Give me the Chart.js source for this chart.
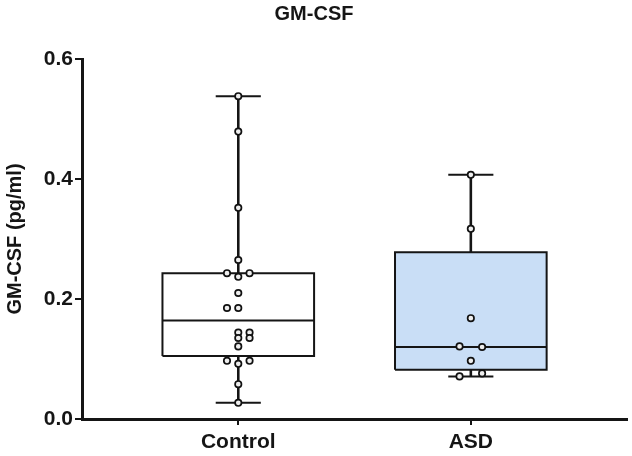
<!DOCTYPE html>
<html>
<head>
<meta charset="utf-8">
<script src="https://cdn.jsdelivr.net/npm/chart.js@4.4.1/dist/chart.umd.min.js"></script>
<style>
  html, body { margin: 0; padding: 0; background: #ffffff; }
  #wrap { width: 632px; height: 456px; position: relative; }
</style>
</head>
<body>
<div id="wrap"><canvas id="c"></canvas></div>
<script>
// ---- data ----
const categories = ['Control', 'ASD'];
const yTicks = [0.0, 0.2, 0.4, 0.6];

// individual observations
const controlValues = [0.538, 0.479, 0.352, 0.265, 0.243, 0.243, 0.237, 0.210, 0.185, 0.185,
                       0.144, 0.144, 0.135, 0.135, 0.121, 0.097, 0.097, 0.092, 0.058, 0.027];
const controlJitter = [0, 0, 0, 0, -1, 1, 0, 0, -1, 0, 0, 1, 0, 1, 0, -1, 1, 0, 0, 0];
const asdValues = [0.407, 0.317, 0.168, 0.121, 0.120, 0.097, 0.076, 0.071];
const asdJitter = [0, 0, 0, -1, 1, 0, 1, -1];

// box summaries: [whiskerLow, q1, median, q3, whiskerHigh]
const controlBox = [0.027, 0.105, 0.164, 0.243, 0.538];
const asdBox = [0.071, 0.082, 0.120, 0.278, 0.407];

// ---- styling ----
const INK = '#151515';
const FONT = '"Liberation Sans", Arial, Helvetica, sans-serif';
const BOX_HALF = 0.326;
const CAP_HALF = 0.097;
const JIT = 0.0485;
const groups = [
  { values: controlValues, jitter: controlJitter, box: controlBox, fill: '#ffffff' },
  { values: asdValues, jitter: asdJitter, box: asdBox, fill: '#c9def6' }
];

const datasets = [];
const lineBase = (data, width, order) => ({
  type: 'line', data, borderColor: INK, borderWidth: width, pointRadius: 0,
  pointHoverRadius: 0, fill: false, tension: 0, order, clip: false
});

groups.forEach((g, i) => {
  const [lo, q1, med, q3, hi] = g.box;
  // points (on top)
  datasets.push({
    type: 'scatter',
    data: g.values.map((v, k) => ({ x: i + g.jitter[k] * JIT, y: v })),
    pointRadius: 3.2, pointBorderWidth: 1.7, borderColor: '#111111', backgroundColor: '#eeeeee',
    pointHoverRadius: 3.2, order: 0
  });
  // box fill
  datasets.push(Object.assign(lineBase([{ x: i - BOX_HALF, y: q3 }, { x: i + BOX_HALF, y: q3 }], 0, 9), {
    fill: { value: q1 }, backgroundColor: g.fill
  }));
  // box outline
  datasets.push(lineBase([
    { x: i - BOX_HALF, y: q1 }, { x: i + BOX_HALF, y: q1 }, { x: i + BOX_HALF, y: q3 },
    { x: i - BOX_HALF, y: q3 }, { x: i - BOX_HALF, y: q1 }
  ], 2, 5));
  // median
  datasets.push(lineBase([{ x: i - BOX_HALF, y: med }, { x: i + BOX_HALF, y: med }], 2, 5));
  // whiskers
  datasets.push(lineBase([{ x: i, y: lo }, { x: i, y: q1 }], 2.6, 6));
  datasets.push(lineBase([{ x: i, y: q3 }, { x: i, y: hi }], 2.6, 6));
  // caps
  datasets.push(lineBase([{ x: i - CAP_HALF, y: lo }, { x: i + CAP_HALF, y: lo }], 2, 6));
  datasets.push(lineBase([{ x: i - CAP_HALF, y: hi }, { x: i + CAP_HALF, y: hi }], 2, 6));
});

new Chart(document.getElementById('c'), {
  type: 'scatter',
  data: { datasets },
  options: {
    responsive: true,
    maintainAspectRatio: false,
    animation: false,
    events: [],
    layout: { padding: { left: 0, right: 4, top: 0, bottom: 0 } },
    plugins: {
      legend: { display: false },
      tooltip: { enabled: false },
      title: {
        display: true, text: 'GM-CSF', color: INK,
        font: { family: FONT, size: 20, weight: 'bold' },
        padding: { top: 2, bottom: 33 }
      }
    },
    scales: {
      x: {
        type: 'linear', min: -0.672, max: 1.672,
        afterBuildTicks: (s) => { s.ticks = categories.map((_, i) => ({ value: i })); },
        afterFit: (s) => { s.height = 37; },
        grid: { display: true, drawOnChartArea: false, drawTicks: true, tickLength: 6, lineWidth: 2, color: INK },
        border: { display: true, width: 3, color: INK },
        ticks: {
          color: INK, padding: 5, autoSkip: false, maxRotation: 0,
          font: { family: FONT, size: 21, weight: 'bold' },
          callback: (v) => categories[v] ?? ''
        }
      },
      y: {
        type: 'linear', min: 0, max: 0.6,
        afterBuildTicks: (s) => { s.ticks = yTicks.map(v => ({ value: v })); },
        afterFit: (s) => { s.width = 82; },
        grid: { display: true, drawOnChartArea: false, drawTicks: true, tickLength: 7, lineWidth: 2, color: INK },
        border: { display: true, width: 3, color: INK },
        title: {
          display: true, text: 'GM-CSF (pg/ml)', color: INK,
          font: { family: FONT, size: 20, weight: 'bold' },
          padding: { top: 3, bottom: 0 }
        },
        ticks: {
          color: INK, padding: 2,
          font: { family: FONT, size: 21, weight: 'bold' },
          callback: (v) => Number(v).toFixed(1)
        }
      }
    }
  }
});
</script>
</body>
</html>
